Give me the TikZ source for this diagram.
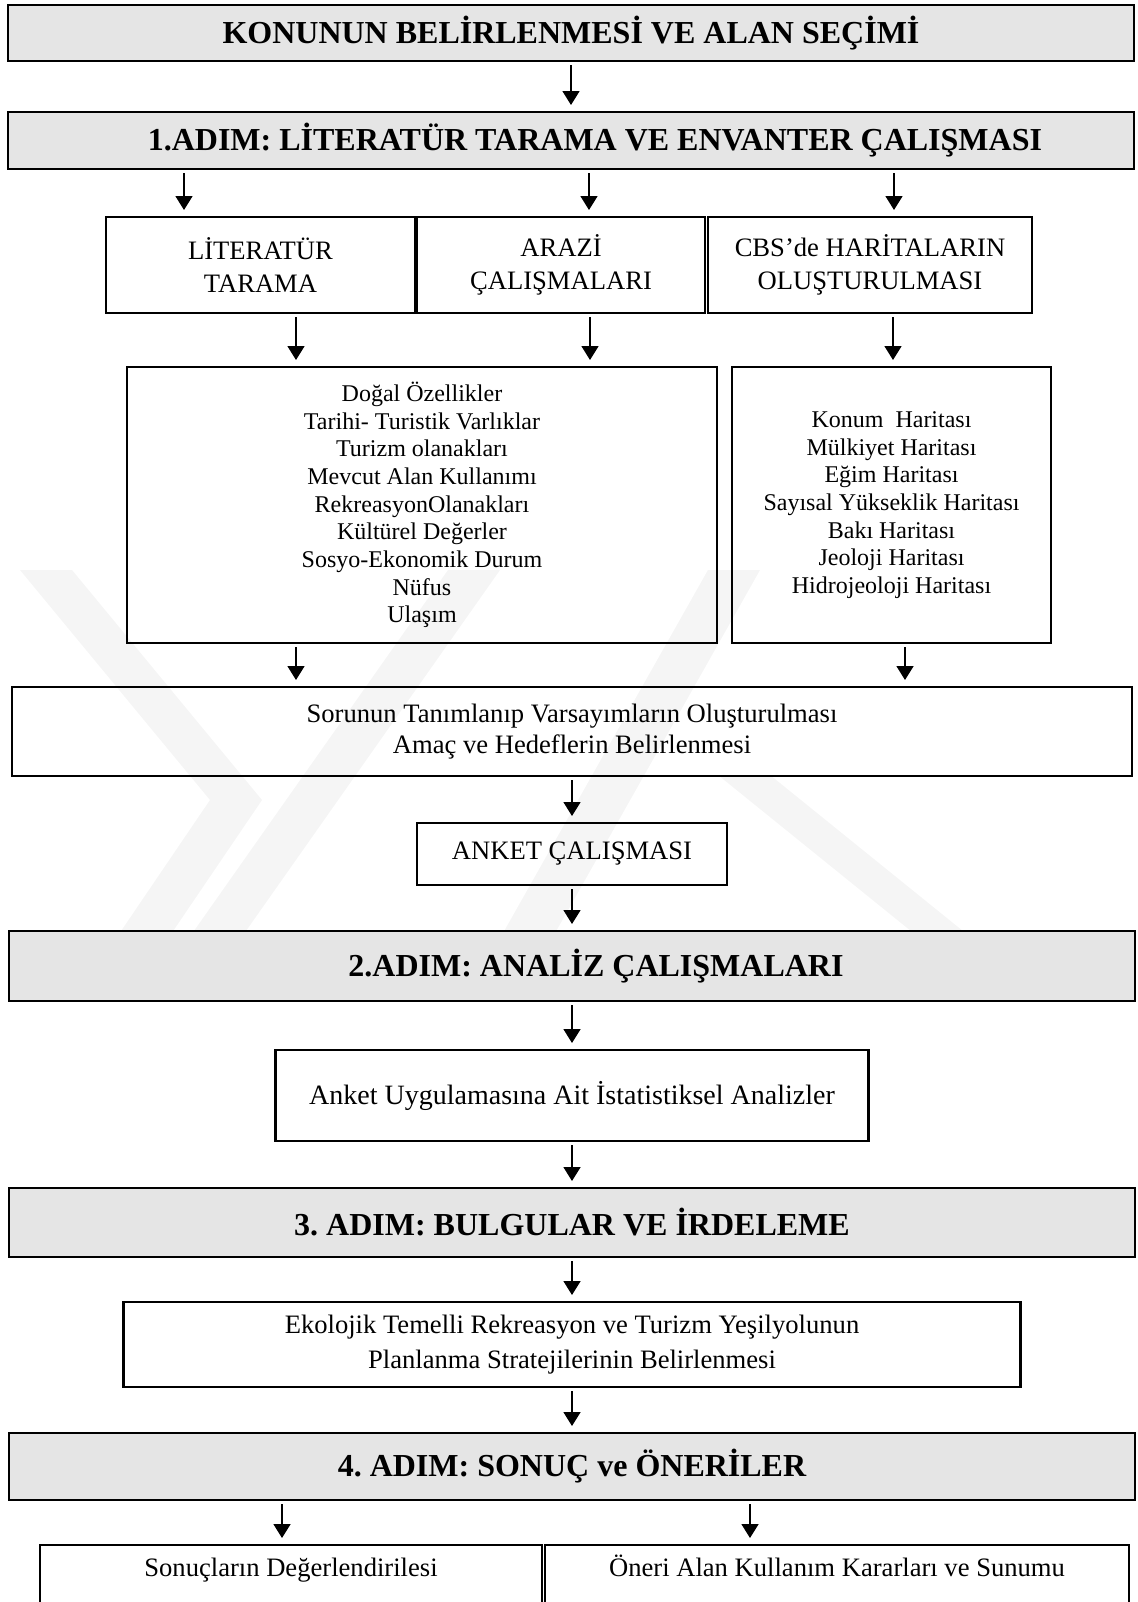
\documentclass[tikz,border=0pt]{standalone}
\usepackage{fontspec}
\setmainfont{Liberation Serif}
\usetikzlibrary{arrows.meta,positioning}
\frenchspacing

\begin{document}
\begin{tikzpicture}[every node/.style={font=\fontsize{13.3}{15.5}\selectfont,inner sep=0pt,outer sep=0pt},
  box/.style={draw,line width=1.1pt,align=center},
  twoline/.style={font=\fontsize{13.3}{16.5}\selectfont},
  listbox/.style={box,font=\fontsize{12}{13.85}\selectfont},
  stepbox/.style={box,fill=gray!20,minimum width=563pt,font=\fontsize{16}{19}\selectfont\bfseries},
  openbox/.style={box,text height=9pt,text depth=45pt,inner ysep=6.5pt},
  wmark/.style={fill=black!4},
  arr/.style={line width=0.8pt,-{Triangle[length=7pt,width=8.5pt]},shorten <=2pt,shorten >=3.5pt}]
  \useasboundingbox (0,0) rectangle (568.5pt,-801pt);

  % faint logo in the background
  \begin{scope}[x=0.5pt,y=-0.5pt]
    \fill[wmark] (20,570) -- (72,570) -- (262,800) -- (150,965) -- (98,965) -- (210,800) -- cycle;
    \fill[wmark] (170,965) -- (222,965) -- (500,570) -- (448,570) -- cycle;
    \fill[wmark] (485,965) -- (537,965) -- (760,570) -- (708,570) -- cycle;
    \fill[wmark] (718,775) -- (770,775) -- (1005,965) -- (953,965) -- cycle;
  \end{scope}

  \node[stepbox,minimum height=28pt,anchor=north west] (konu) at (4pt,-2.5pt) {KONUNUN BELİRLENMESİ VE ALAN SEÇİMİ};
  \node[stepbox,minimum height=28.5pt,below=25.5pt of konu] (adim1) {\hspace*{24pt}1.ADIM: LİTERATÜR TARAMA VE ENVANTER ÇALIŞMASI};

  % three sources of data
  \node[box,twoline,minimum width=154.5pt,minimum height=48pt,below=24pt of adim1.south west,anchor=north west,xshift=49pt] (lit) {LİTERATÜR\\TARAMA};
  \node[box,twoline,minimum width=144pt,minimum height=48pt,right=1pt of lit] (arazi) {ARAZİ\\ÇALIŞMALARI};
  \node[box,twoline,minimum width=162pt,minimum height=48pt,right=1.5pt of arazi] (cbs) {CBS’de HARİTALARIN\\OLUŞTURULMASI};

  \node[listbox,minimum width=295pt,minimum height=138pt,below=27pt of lit.south west,anchor=north west,xshift=10.5pt] (veri)
    {Doğal Özellikler\\Tarihi- Turistik Varlıklar\\Turizm olanakları\\Mevcut Alan Kullanımı\\RekreasyonOlanakları\\Kültürel Değerler\\Sosyo-Ekonomik Durum\\Nüfus\\Ulaşım};
  \node[listbox,minimum width=159.5pt,minimum height=138pt,right=7.5pt of veri] (harita)
    {Konum~~Haritası\\Mülkiyet Haritası\\Eğim Haritası\\Sayısal Yükseklik Haritası\\Bakı Haritası\\Jeoloji Haritası\\Hidrojeoloji Haritası};

  \node[box,minimum width=560pt,minimum height=44.5pt,below=22pt of veri.south west,anchor=north west,xshift=-57.5pt] (sorun)
    {Sorunun Tanımlanıp Varsayımların Oluşturulması\\Amaç ve Hedeflerin Belirlenmesi};
  \node[box,minimum width=155pt,minimum height=31pt,below=23.5pt of sorun] (anket) {ANKET ÇALIŞMASI};

  \node[stepbox,minimum height=35pt,below=23pt of anket] (adim2) {\hspace*{24pt}2.ADIM: ANALİZ ÇALIŞMALARI};
  \node[box,minimum width=296.5pt,minimum height=45.5pt,below=24.5pt of adim2,font=\fontsize{14}{16}\selectfont] (analiz) {Anket Uygulamasına Ait İstatistiksel Analizler};

  \node[stepbox,minimum height=34.5pt,below=23.5pt of analiz] (adim3) {3. ADIM: BULGULAR VE İRDELEME};
  \node[box,minimum width=448.5pt,minimum height=42.5pt,below=22.5pt of adim3,font=\fontsize{13.3}{17.5}\selectfont] (eko)
    {Ekolojik Temelli Rekreasyon ve Turizm Yeşilyolunun\\Planlanma Stratejilerinin Belirlenmesi};

  \node[stepbox,minimum height=33.5pt,below=23pt of eko] (adim4) {4. ADIM: SONUÇ ve ÖNERİLER};
  \node[openbox,minimum width=251pt,below=22.5pt of adim4.south west,anchor=north west,xshift=15.5pt] (sonuc) {Sonuçların Değerlendirilesi};
  \node[openbox,minimum width=292pt,right=1.5pt of sonuc] (oneri) {Öneri Alan Kullanım Kararları ve Sunumu};

  \draw[arr] (konu) -- (adim1);
  \draw[arr] ([xshift=-38.25pt]lit.north |- adim1.south) -- ([xshift=-38.25pt]lit.north);
  \draw[arr] ([xshift=14pt]arazi.north |- adim1.south) -- ([xshift=14pt]arazi.north);
  \draw[arr] ([xshift=12pt]cbs.north |- adim1.south) -- ([xshift=12pt]cbs.north);
  \draw[arr] ([xshift=17.75pt]lit.south) -- ([xshift=17.75pt]lit.south |- veri.north);
  \draw[arr] ([xshift=14.5pt]arazi.south) -- ([xshift=14.5pt]arazi.south |- veri.north);
  \draw[arr] ([xshift=11.5pt]cbs.south) -- ([xshift=11.5pt]cbs.south |- harita.north);
  \draw[arr] ([xshift=-63pt]veri.south) -- ([xshift=-63pt]veri.south |- sorun.north);
  \draw[arr] ([xshift=6.75pt]harita.south) -- ([xshift=6.75pt]harita.south |- sorun.north);
  \draw[arr] (sorun) -- (anket);
  \draw[arr] (anket) -- (adim2);
  \draw[arr] (adim2) -- (analiz);
  \draw[arr] (analiz) -- (adim3);
  \draw[arr] (adim3) -- (eko);
  \draw[arr] (eko) -- (adim4);
  \draw[arr] ([xshift=-4.5pt]sonuc.north |- adim4.south) -- ([xshift=-4.5pt]sonuc.north);
  \draw[arr] ([xshift=-43.5pt]oneri.north |- adim4.south) -- ([xshift=-43.5pt]oneri.north);
\end{tikzpicture}
\end{document}
